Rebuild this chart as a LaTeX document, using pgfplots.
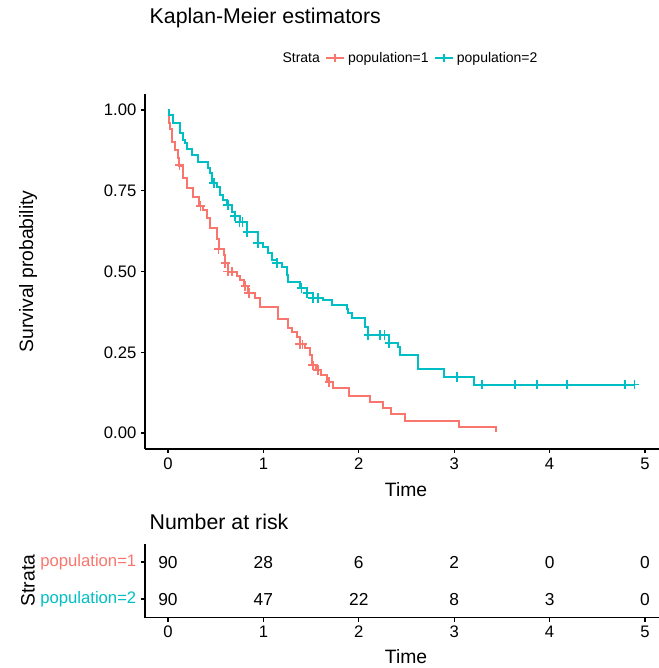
\documentclass[border=0pt]{standalone}
\usepackage{fontspec}
\setmainfont{Liberation Sans}
\usepackage{pgfplots}
\pgfplotsset{compat=1.18}
\definecolor{cred}{HTML}{F8766D}
\definecolor{cteal}{HTML}{00BFC4}

\pgfplotstableread{
t S
0 1.000
0.01 0.960
0.02 0.940
0.04 0.900
0.07 0.876
0.10 0.850
0.12 0.827
0.16 0.790
0.20 0.758
0.26 0.730
0.32 0.703
0.37 0.690
0.41 0.666
0.44 0.635
0.51 0.600
0.53 0.570
0.59 0.550
0.60 0.526
0.63 0.500
0.72 0.485
0.75 0.474
0.80 0.455
0.84 0.433
0.91 0.418
0.96 0.390
1.15 0.352
1.26 0.325
1.30 0.313
1.35 0.297
1.38 0.275
1.44 0.264
1.49 0.240
1.51 0.210
1.55 0.195
1.60 0.180
1.67 0.158
1.73 0.139
1.90 0.115
2.12 0.096
2.25 0.077
2.34 0.059
2.48 0.037
3.05 0.019
3.44 0.003
}\redcurve

\pgfplotstableread{
t S
0.12 0.829
0.34 0.703
0.53 0.570
0.60 0.526
0.63 0.500
0.67 0.500
0.81 0.455
0.85 0.433
1.38 0.275
1.41 0.275
1.52 0.210
1.57 0.195
1.69 0.158
}\redcens

\pgfplotstableread{
t S
0 1.000
0.01 0.985
0.05 0.960
0.13 0.930
0.16 0.907
0.18 0.898
0.20 0.880
0.25 0.860
0.31 0.840
0.42 0.820
0.44 0.805
0.46 0.774
0.51 0.762
0.55 0.737
0.58 0.720
0.62 0.706
0.67 0.684
0.70 0.672
0.75 0.653
0.83 0.622
0.94 0.588
1.00 0.576
1.05 0.557
1.09 0.536
1.14 0.526
1.19 0.514
1.25 0.489
1.26 0.467
1.38 0.449
1.46 0.433
1.52 0.418
1.62 0.412
1.72 0.396
1.88 0.384
1.89 0.370
1.93 0.356
2.06 0.328
2.10 0.303
2.32 0.279
2.41 0.266
2.43 0.240
2.62 0.198
2.89 0.173
3.21 0.150
4.89 0.150
}\tealcurve

\pgfplotstableread{
t S
0.48 0.774
0.63 0.706
0.70 0.672
0.75 0.653
0.78 0.653
0.83 0.622
0.94 0.588
1.14 0.526
1.40 0.449
1.46 0.433
1.52 0.418
1.57 0.418
2.10 0.303
2.22 0.303
2.27 0.303
2.32 0.279
3.03 0.173
3.29 0.150
3.64 0.150
3.87 0.150
4.18 0.150
4.79 0.150
4.89 0.150
}\tealcens

\pgfplotstableread{
x y label
0 2 90
1 2 28
2 2 6
3 2 2
4 2 0
5 2 0
0 1 90
1 1 47
2 1 22
3 1 8
4 1 3
5 1 0
}\risk

\begin{document}
\begin{tikzpicture}
\path[use as bounding box] (0pt,0pt) rectangle (494.25pt,-501pt);

\begin{axis}[
  at={(108.75pt,-336.75pt)}, anchor=south west,
  scale only axis, width=385.5pt, height=266.25pt,
  xmin=-0.241, xmax=5.147, ymin=-0.0495, ymax=1.0495,
  axis x line=bottom, axis y line=left,
  axis line style={-, line width=0.8pt, black},
  tick align=outside, major tick length=3pt,
  tick style={black, line width=0.8pt},
  xtick={0,1,2,3,4,5},
  ytick={0,0.25,0.5,0.75,1},
  yticklabels={0.00,0.25,0.50,0.75,1.00},
  /pgf/number format/assume math mode=true,
  tick label style={font=\fontsize{12.5}{14}\selectfont},
  xlabel={Time}, ylabel={Survival probability},
  xlabel style={at={(axis description cs:0.508,-0.1155)}, anchor=center, font=\fontsize{14.5}{17}\selectfont},
  ylabel style={at={(axis description cs:-0.2276,0.5)}, anchor=center, font=\fontsize{14.5}{17}\selectfont},
  title={Kaplan-Meier estimators},
  every axis title/.style={at={(axis description cs:0,1.214)}, anchor=west, font=\fontsize{16}{19}\selectfont},
  legend columns=-1,
  legend style={draw=none, fill=none, at={(axis description cs:0.5156,1.101)}, anchor=center,
    font=\fontsize{10.5}{12}\selectfont, /tikz/every even column/.append style={column sep=2pt}},
  legend image code/.code={\draw[mark repeat=2,mark phase=2] plot coordinates {(0cm,0cm) (0.24cm,0cm) (0.48cm,0cm)};},
]
\addplot[const plot, cred, line width=1.5pt, forget plot] table[x=t,y=S] {\redcurve};
\addplot[const plot, cteal, line width=1.5pt, forget plot] table[x=t,y=S] {\tealcurve};
\addplot[only marks, mark=+, cred, mark size=3.5pt, mark options={line width=1.3pt}, forget plot] table[x=t,y=S] {\redcens};
\addplot[only marks, mark=+, cteal, mark size=3.5pt, mark options={line width=1.3pt}, forget plot] table[x=t,y=S] {\tealcens};
\addlegendimage{empty legend}\addlegendentry{Strata}
\addlegendimage{cred, line width=1.5pt, mark=+, mark size=3pt}\addlegendentry{population=1}
\addlegendimage{cteal, line width=1.5pt, mark=+, mark size=3pt}\addlegendentry{population=2}
\end{axis}

\begin{axis}[
  at={(108.75pt,-463.125pt)}, anchor=south west,
  scale only axis, width=385.5pt, height=55.5pt,
  xmin=-0.241, xmax=5.147, ymin=0.5, ymax=2.5,
  axis x line=bottom, axis y line=left,
  axis line style={-, line width=0.8pt, black},
  tick align=outside, major tick length=3pt,
  tick style={black, line width=0.8pt},
  xtick={0,1,2,3,4,5},
  ytick={1,2},
  yticklabels={\textcolor{cteal}{population=2},\textcolor{cred}{population=1}},
  /pgf/number format/assume math mode=true,
  tick label style={font=\fontsize{12.5}{14}\selectfont},
  yticklabel style={font=\fontsize{12.5}{14}\selectfont},
  xlabel={Time}, ylabel={Strata},
  xlabel style={at={(axis description cs:0.508,-0.534)}, anchor=center, font=\fontsize{14.5}{17}\selectfont},
  ylabel style={at={(axis description cs:-0.2276,0.5)}, anchor=center, font=\fontsize{14.5}{17}\selectfont},
  title={Number at risk},
  every axis title/.style={at={(axis description cs:0,1.29)}, anchor=west, font=\fontsize{16}{19}\selectfont},
]
\addplot[draw=none, mark=none, nodes near coords, point meta=explicit symbolic,
  every node near coord/.style={anchor=base, yshift=-4.6pt, font=\fontsize{13}{15}\selectfont, black}]
  table[x=x, y=y, meta=label] {\risk};
\end{axis}
\end{tikzpicture}
\end{document}
